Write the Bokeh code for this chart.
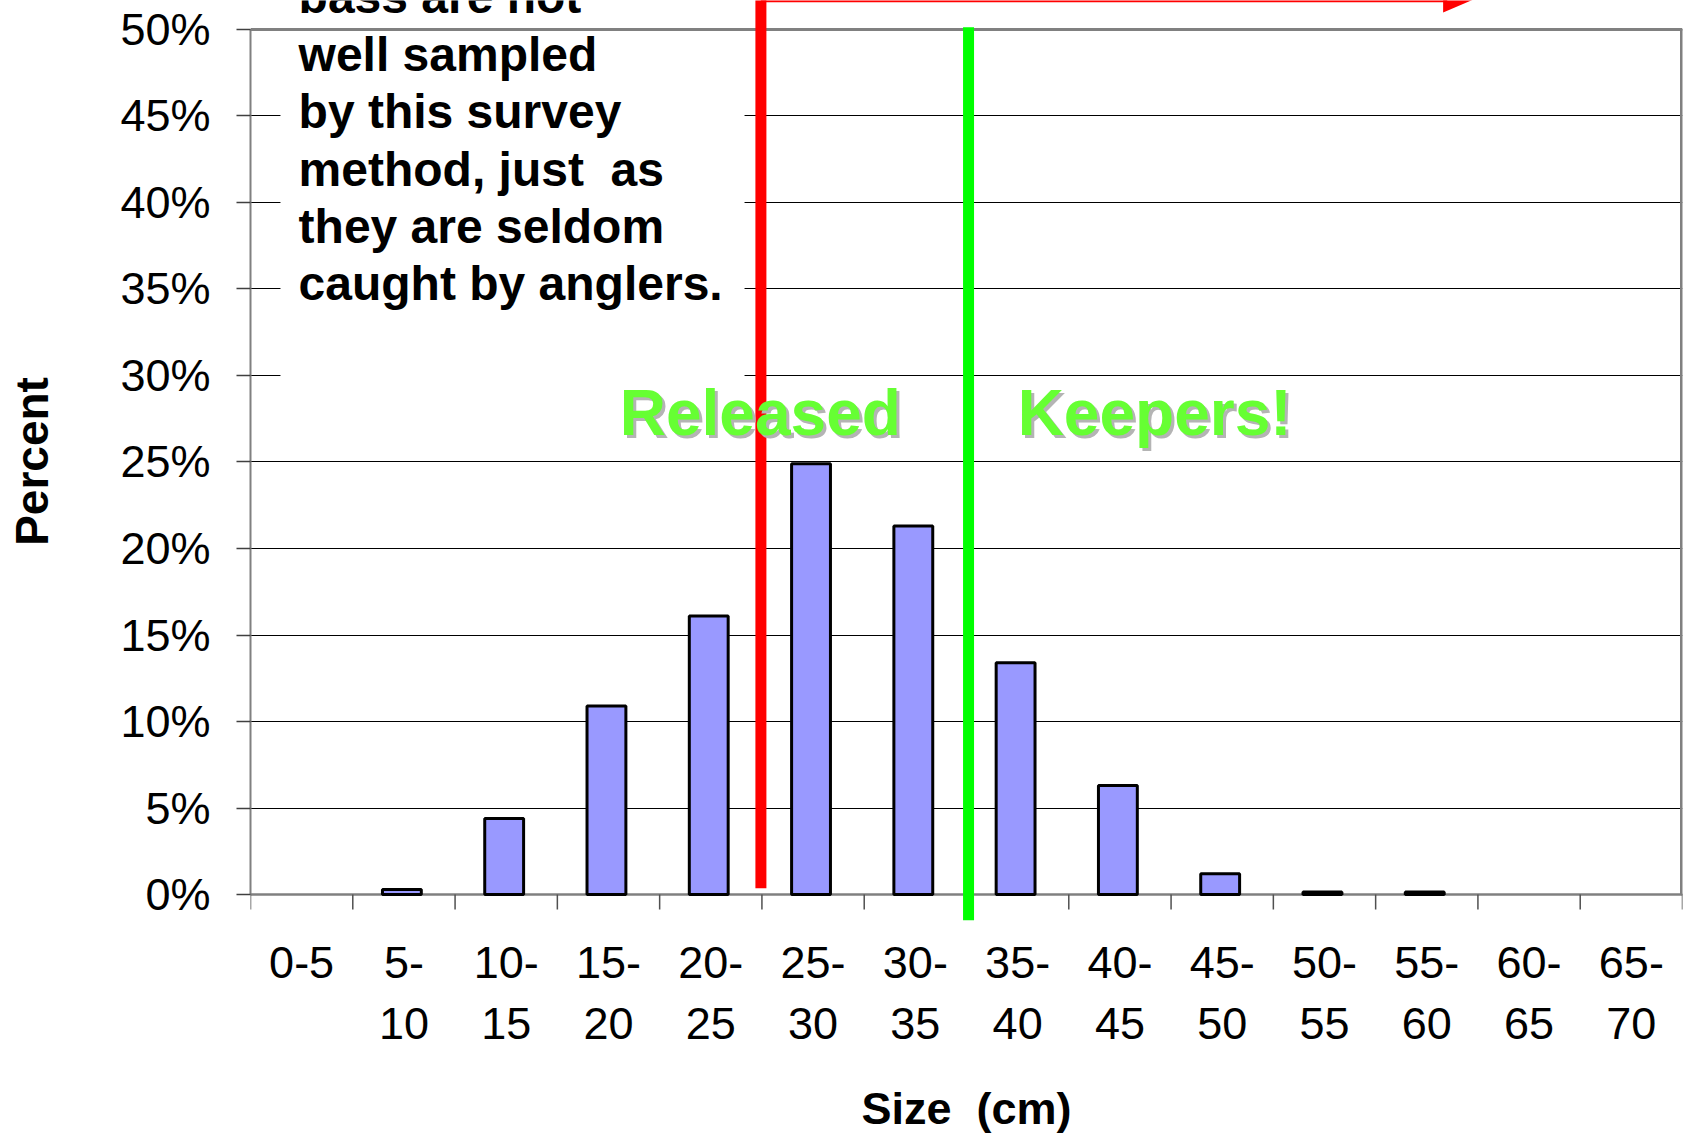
from bokeh.plotting import figure
from bokeh.models import Range1d, FixedTicker, PrintfTickFormatter
from bokeh.embed import file_html
from bokeh.resources import INLINE
from bokeh.core.properties import value

# ---------------- data ----------------
size_classes = ["0-5", "5-10", "10-15", "15-20", "20-25", "25-30", "30-35",
                "35-40", "40-45", "45-50", "50-55", "55-60", "60-65", "65-70"]
tick_labels = ["0-5", "5-\n10", "10-\n15", "15-\n20", "20-\n25", "25-\n30", "30-\n35",
               "35-\n40", "40-\n45", "45-\n50", "50-\n55", "55-\n60", "60-\n65", "65-\n70"]
percent = [0.0, 0.3, 4.4, 10.9, 16.1, 24.9, 21.3, 13.4, 6.3, 1.2, 0.15, 0.15, 0.0, 0.0]
y_ticks = [0, 5, 10, 15, 20, 25, 30, 35, 40, 45, 50]
note_lines = ["bass are not", "well sampled", "by this survey",
              "method, just \u00a0as", "they are seldom", "caught by anglers."]
release_x = 4.49   # red line (released below)
keeper_x = 6.52    # green line (keepers above)

# ---------------- layout ----------------
W, H = 1690, 1136
PX = 17.36                      # pixels per percent
Y_TOP = 50 + 29 / PX
Y_BOT = -28 / PX
n = len(size_classes)
FONT = value("Liberation Sans")
BAR_SHIFT = -0.02

p = figure(width=W, height=H, x_range=Range1d(-0.5, n - 0.5), y_range=Range1d(Y_BOT, Y_TOP),
           output_backend="svg", toolbar_location=None, title=None,
           min_border_left=250, min_border_right=8, min_border_top=0, min_border_bottom=211)
p.outline_line_color = None
p.background_fill_color = "white"
p.border_fill_color = "white"

# y axis
p.yaxis.ticker = FixedTicker(ticks=y_ticks)
p.yaxis.formatter = PrintfTickFormatter(format="%d%%")
p.yaxis.bounds = (0, 50)
p.yaxis.axis_line_color = "#808080"
p.yaxis.axis_line_width = 2
p.yaxis.major_tick_out = 14
p.yaxis.major_tick_in = 0
p.yaxis.major_tick_line_color = "#404040"
p.yaxis.major_tick_line_width = 1.5
p.yaxis.minor_tick_line_color = None
p.yaxis.major_label_standoff = 26
p.yaxis.major_label_text_font = "Liberation Sans"
p.yaxis.major_label_text_font_size = "45px"
p.yaxis.major_label_text_color = "black"
p.yaxis.axis_label = "Percent"
p.yaxis.axis_label_text_font = "Liberation Sans"
p.yaxis.axis_label_text_font_size = "46px"
p.yaxis.axis_label_text_font_style = "bold"
p.yaxis.axis_label_text_color = "black"
p.yaxis.axis_label_standoff = 59

# x axis (labels only; line & ticks drawn at 0%)
p.xaxis.ticker = FixedTicker(ticks=list(range(n)))
p.xaxis.major_label_overrides = {i: lab for i, lab in enumerate(tick_labels)}
p.xaxis.axis_line_color = None
p.xaxis.major_tick_line_color = None
p.xaxis.major_tick_out = 0
p.xaxis.major_tick_in = 0
p.xaxis.minor_tick_line_color = None
p.xaxis.major_label_standoff = 14
p.xaxis.major_label_text_font = "Liberation Sans"
p.xaxis.major_label_text_font_size = "45px"
p.xaxis.major_label_text_color = "black"
p.xaxis.major_label_text_line_height = 1.2
p.xaxis.axis_label = "Size\u00a0 (cm)"
p.xaxis.axis_label_text_font = "Liberation Sans"
p.xaxis.axis_label_text_font_size = "45px"
p.xaxis.axis_label_text_font_style = "bold"
p.xaxis.axis_label_text_color = "black"
p.xaxis.axis_label_standoff = 31

p.xgrid.grid_line_color = None
p.ygrid.ticker = FixedTicker(ticks=y_ticks)
p.ygrid.grid_line_color = "black"
p.ygrid.grid_line_width = 1

# white box behind the note
p.quad(left=[-0.207], right=[4.33], bottom=[28.6], top=[Y_TOP + 2], fill_color="white", line_color=None)

# x axis line and boundary ticks at 0%
bounds = [i - 0.5 for i in range(n + 1)]
p.segment(x0=[-0.5], y0=[0], x1=[n - 0.5], y1=[0], line_color="#808080", line_width=2.5)
p.segment(x0=bounds, y0=[0] * len(bounds), x1=bounds, y1=[-15 / PX] * len(bounds),
          line_color="#505050", line_width=1.5)
# top & right border
p.segment(x0=[-0.5], y0=[50], x1=[n - 0.5], y1=[50], line_color="#808080", line_width=3)
p.segment(x0=[n - 0.5], y0=[0], x1=[n - 0.5], y1=[50], line_color="#808080", line_width=5)

# bars
bx = [i + BAR_SHIFT for i, v in enumerate(percent) if v > 0]
bt = [v for v in percent if v > 0]
p.vbar(x=bx, top=bt, bottom=0, width=0.38, fill_color="#9999FF", line_color="black", line_width=3)

# red line + arrow
p.segment(x0=[release_x], y0=[0.36], x1=[release_x], y1=[Y_TOP + 2], line_color="#FF0000", line_width=11)
p.segment(x0=[release_x], y0=[51.89], x1=[11.2], y1=[51.89], line_color="#FF0000", line_width=11)
p.patch(x=[11.16, 11.52, 11.16], y=[50.97, 51.89, 52.81], fill_color="#FF0000", line_color=None)
# green line
p.segment(x0=[keeper_x], y0=[50.13], x1=[keeper_x], y1=[-1.48], line_color="#00FF00", line_width=11)

# note text
ys = [51.89 - i * 3.32 for i in range(len(note_lines))]
p.text(x=[-0.03] * len(note_lines), y=ys, text=note_lines, text_font=FONT,
       text_font_style="bold", text_font_size="48px", text_color="black",
       text_align="left", text_baseline="alphabetic")

# Released / Keepers!
lab_x = [3.11, 7.0]
lab_y = [27.85, 27.85]
lab_t = ["Released", "Keepers!"]
p.text(x=lab_x, y=lab_y, text=lab_t, text_font=FONT, text_font_style="bold",
       text_font_size="64px", text_color="#B4B4B4", x_offset=3, y_offset=3,
       text_align="left", text_baseline="alphabetic")
p.text(x=lab_x, y=lab_y, text=lab_t, text_font=FONT, text_font_style="bold",
       text_font_size="64px", text_color="#66FF33",
       text_align="left", text_baseline="alphabetic")

open("out.html", "w").write(file_html(p, INLINE))
